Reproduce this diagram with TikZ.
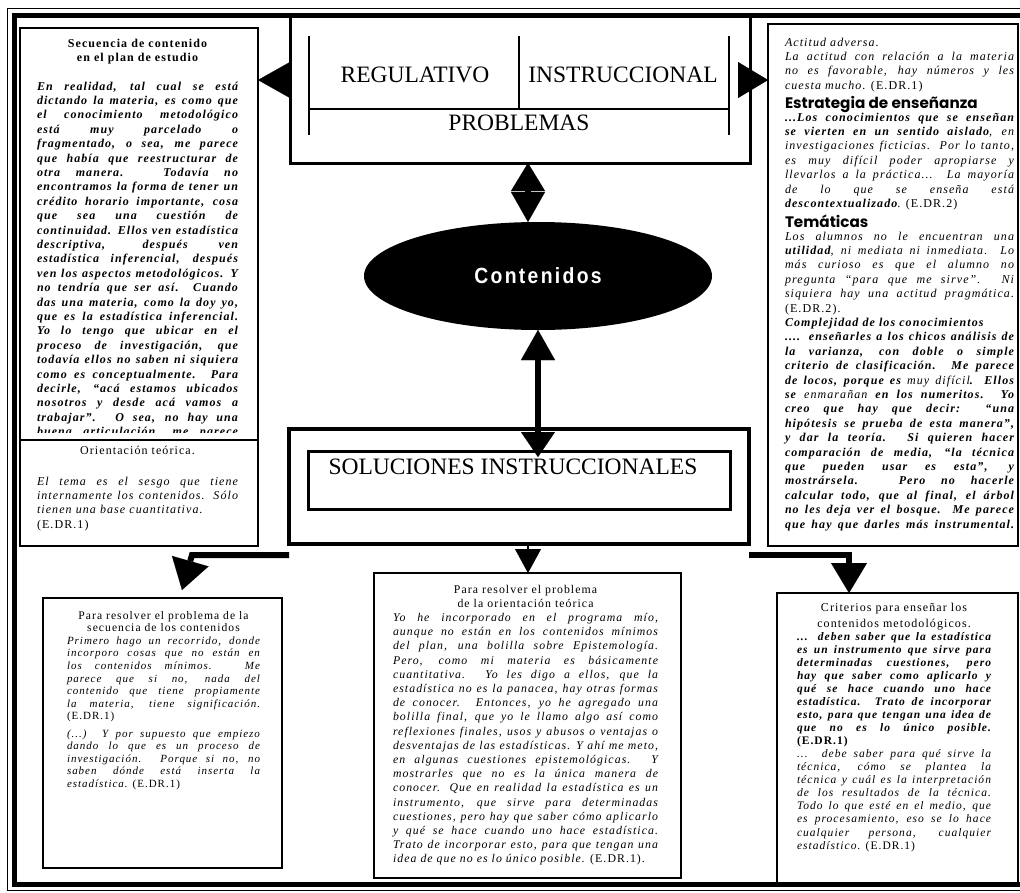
\documentclass[tikz,border=0pt]{standalone}
\usepackage{fontspec}
\usepackage{graphicx}
\setmainfont{Liberation Serif}[LetterSpace=9]
\newfontfamily\bigser{Liberation Serif}
\newfontfamily\hdfont{Poppins}
\newfontfamily\contfont{Liberation Sans}[LetterSpace=12]
\usetikzlibrary{arrows.meta,shapes.geometric}
\newlength\tw
\newcommand\justl[1]{\makebox[\tw][s]{\spaceskip=0pt\xspaceskip=0pt\relax #1}}
\newcommand\cenl[1]{\makebox[\tw][c]{#1}}
\newcommand\stt{\rule{0pt}{12pt}}
\newcommand\bfit{\bfseries\itshape}
\newcommand\hdng{\hdfont\bfseries\fontsize{15.2}{14.4}\selectfont}
\begin{document}
\begin{tikzpicture}[x=1pt,y=-1pt,
  box/.style={draw, line width=2pt, inner sep=0pt, outer sep=0pt},
  txt/.style n args={3}{anchor=north west, inner sep=0pt, outer sep=0pt, text width=#1, align=flush left,
     font={\fontsize{#2}{#3}\selectfont},
     execute at begin node={\setlength{\tw}{#1}\parindent=0pt\lineskiplimit=-50pt\spaceskip=0pt\xspaceskip=0pt\relax}},
  big/.style={inner sep=0pt, anchor=base, font={\bigser\fontsize{23.5}{24}\selectfont}},
  bar/.style={line width=2.5pt, line cap=butt},
]
\useasboundingbox (0,0) rectangle (1020,892);
% frame
\draw[line width=1.2pt] (7.5,8.5) rectangle (1040,890.5);
\draw[line width=5pt] (14.5,15.5) rectangle (1040,884.5);

% boxes
\node[box, line width=3pt, minimum width=460pt, minimum height=147.5pt] (prob) at (520,89.25) {};
\node[box, minimum width=238pt, minimum height=518pt] (sec) at (139,287) {};
\node[box, minimum width=250pt, minimum height=522pt] (act) at (893,285) {};
\node[box, line width=3.5pt, minimum width=460pt, minimum height=115pt] (solout) at (519,486.5) {};
\node[box, line width=3pt, minimum width=422pt, minimum height=58pt] (solin) at (519,480) {};
\node[box, minimum width=239pt, minimum height=270pt] (lb) at (162.5,733) {};
\node[box, line width=2.5pt, minimum width=307pt, minimum height=305pt] (mb) at (527.5,725.5) {};
\node[box, minimum width=241pt, minimum height=291pt] (rb) at (897.5,738.5) {};

% separator in left box
\coordinate (sepc) at (139,440);
\draw[line width=1.5pt] (sec.west |- sepc) -- (sec.east |- sepc);

% bracket lines inside PROBLEMAS
\coordinate (b1) at (309,36); \coordinate (b2) at (309,135);
\coordinate (b3) at (729,36); \coordinate (b4) at (729,135);
\coordinate (bm) at (519,36);
\coordinate (bh1) at (309,109); \coordinate (bh2) at (729,109);
\draw[bar] (b1) -- (b2);
\draw[bar] (b3) -- (b4);
\draw[bar] (bh1) -- (bh2);
\draw[bar] (bm) -- (bm |- bh1);

\node[big] (reg) at (415,82.8) {REGULATIVO};
\node[big] (ins) at (623,82.8) {INSTRUCCIONAL};
\node[big] (pro) at (519,130.8) {PROBLEMAS};
\node[big] (sol) at (513,474) {SOLUCIONES INSTRUCCIONALES};

% ellipse
\node[ellipse, fill=black, minimum width=348pt, minimum height=108pt, inner sep=0pt, outer sep=0pt,
      text=white, font={\contfont\bfseries\fontsize{22}{22}\selectfont}] (cont) at (538,276) {\scalebox{0.88}[1]{Contenidos}};

% connectors
\coordinate (pl) at (292,80);
\coordinate (pr) at (738,80);
\draw[line width=1pt, -{Triangle[length=32pt,width=36pt,line width=0.01pt]}] (pl) -- (sec.east |- pl);
\draw[line width=1pt, -{Triangle[length=30pt,width=36pt,line width=0.01pt]}] (pr) -- (act.west |- pr);

\coordinate (d1) at (528,0);
\draw[line width=6pt, {Triangle[length=28pt,width=34pt,line width=0.01pt]}-{Triangle[length=30pt,width=34pt,line width=0.01pt]}]
   (prob.south -| d1) -- (cont.north -| d1);

\coordinate (d4) at (538,457);
\draw[line width=6.5pt, {Triangle[length=30pt,width=34pt,line width=0.01pt]}-{Triangle[length=25pt,width=34pt,line width=0.01pt]}]
   (cont.south) -- (d4);

\coordinate (c5) at (528,0);
\draw[line width=2.5pt, -{Triangle[length=24pt,width=26pt,line width=0.01pt]}] (solout.south -| c5) -- (mb.north -| c5);

\coordinate (l2) at (192,555);
\coordinate (lt) at (182,590);
\draw[line width=6pt, line join=miter, -{Triangle[length=30pt,width=38pt,line width=0.01pt]}]
   (solout.west |- l2) -- (l2) -- (lt);
\coordinate (r2) at (849,555);
\draw[line width=6pt, line join=miter, -{Triangle[length=30pt,width=36pt,line width=0.01pt]}]
   (solout.east |- r2) -- (r2) -- (rb.north -| r2);

% top-left text
\begin{scope}
\clip (20,28) rectangle (258,432);
\node[txt={201pt}{12}{14.4}] (sectxt) at (37,35) {\stt\cenl{\bfseries Secuencia de contenido}\\
\cenl{\bfseries en el plan de estudio}\\[14.2pt]
\justl{\bfit En realidad, tal cual se está}\\
\justl{\bfit dictando la materia, es como que}\\
\justl{\bfit el conocimiento metodológico}\\
\justl{\bfit está muy parcelado o}\\
\justl{\bfit fragmentado, o sea, me parece}\\
\justl{\bfit que había que reestructurar de}\\
\justl{\bfit otra manera. Todavía no}\\
\justl{\bfit encontramos la forma de tener un}\\
\justl{\bfit crédito horario importante, cosa}\\
\justl{\bfit que sea una cuestión de}\\
\justl{\bfit continuidad. Ellos ven estadística}\\
\justl{\bfit descriptiva, después ven}\\
\justl{\bfit estadística inferencial, después}\\
\justl{\bfit ven los aspectos metodológicos. Y}\\
\justl{\bfit no tendría que ser así. Cuando}\\
\justl{\bfit das una materia, como la doy yo,}\\
\justl{\bfit que es la estadística inferencial.}\\
\justl{\bfit Yo lo tengo que ubicar en el}\\
\justl{\bfit proceso de investigación, que}\\
\justl{\bfit todavía ellos no saben ni siquiera}\\
\justl{\bfit como es conceptualmente. Para}\\
\justl{\bfit decirle, “acá estamos ubicados}\\
\justl{\bfit nosotros y desde acá vamos a}\\
\justl{\bfit trabajar”. O sea, no hay una}\\
\justl{\bfit buena articulación, me parece}};
\end{scope}

\node[txt={201pt}{12}{14.4}] (oritxt) at (37,442) {\stt\cenl{Orientación teórica.}\\[16.6pt]
\justl{\itshape El tema es el sesgo que tiene}\\
\justl{\itshape internamente los contenidos. Sólo}\\
{\itshape tienen una base cuantitativa.}\\
(E.DR.1)};

% top-right text
\node[txt={229pt}{12}{14.4}] (acttxt) at (785,34) {\stt{\itshape Actitud adversa.}\\
\justl{\itshape La actitud con relación a la materia}\\
\justl{\itshape no es favorable, hay números y les}\\
{\itshape cuesta mucho.} (E.DR.1)\\[4.9pt]
{\hdng Estrategia de enseñanza}\\[-1.9pt]
\justl{\bfit ...Los conocimientos que se enseñan}\\
\justl{{\bfit se vierten en un sentido aislado}{\itshape , en}}\\
\justl{\itshape investigaciones ficticias. Por lo tanto,}\\
\justl{\itshape es muy difícil poder apropiarse y}\\
\justl{\itshape llevarlos a la práctica... La mayoría}\\
\justl{\itshape de lo que se enseña está}\\
{\bfit descontextualizado}. (E.DR.2)\\[5.7pt]
{\hdng Temáticas}\\[-1.9pt]
\justl{\itshape Los alumnos no le encuentran una}\\
\justl{{\bfit utilidad}{\itshape , ni mediata ni inmediata. Lo}}\\
\justl{\itshape más curioso es que el alumno no}\\
\justl{\itshape pregunta “para que me sirve”. Ni}\\
\justl{\itshape siquiera hay una actitud pragmática.}\\
(E.DR.2).\\
{\bfit Complejidad de los conocimientos}\\
\justl{\bfit .... enseñarles a los chicos análisis de}\\
\justl{\bfit la varianza, con doble o simple}\\
\justl{\bfit criterio de clasificación. Me parece}\\
\justl{{\bfit de locos, porque es} {\itshape muy difícil}{\bfit . Ellos}}\\
\justl{{\bfit se} {\itshape enmarañan} {\bfit en los numeritos. Yo}}\\
\justl{\bfit creo que hay que decir: “una}\\
\justl{\bfit hipótesis se prueba de esta manera”,}\\
\justl{\bfit y dar la teoría. Si quieren hacer}\\
\justl{\bfit comparación de media, “la técnica}\\
\justl{\bfit que pueden usar es esta”, y}\\
\justl{\bfit mostrársela. Pero no hacerle}\\
\justl{\bfit calcular todo, que al final, el árbol}\\
\justl{\bfit no les deja ver el bosque. Me parece}\\
\justl{\bfit que hay que darles más instrumental.}};

% bottom-left text
\node[txt={193pt}{11}{12.6}] (lbtxt) at (67,607) {\stt\cenl{\fontsize{11.6}{12.6}\selectfont Para resolver el problema de la}\\
\cenl{\fontsize{11.6}{12.6}\selectfont secuencia de los contenidos}\\
\justl{\itshape Primero hago un recorrido, donde}\\
\justl{\itshape incorporo cosas que no están en}\\
\justl{\itshape los contenidos mínimos. Me}\\
\justl{\itshape parece que si no, nada del}\\
\justl{\itshape contenido que tiene propiamente}\\
\justl{\itshape la materia, tiene significación.}\\
(E.DR.1)\\[4.6pt]
\justl{\itshape (...) Y por supuesto que empiezo}\\
\justl{\itshape dando lo que es un proceso de}\\
\justl{\itshape investigación. Porque si no, no}\\
\justl{\itshape saben dónde está inserta la}\\
{\itshape estadística.} (E.DR.1)};

% bottom-middle text
\node[txt={265pt}{11.8}{14.2}] (mbtxt) at (393,581) {\stt\cenl{Para resolver el problema}\\
\cenl{de la orientación teórica}\\
\justl{\itshape Yo he incorporado en el programa mío,}\\
\justl{\itshape aunque no están en los contenidos mínimos}\\
\justl{\itshape del plan, una bolilla sobre Epistemología.}\\
\justl{\itshape Pero, como mi materia es básicamente}\\
\justl{\itshape cuantitativa. Yo les digo a ellos, que la}\\
\justl{\itshape estadística no es la panacea, hay otras formas}\\
\justl{\itshape de conocer. Entonces, yo he agregado una}\\
\justl{\itshape bolilla final, que yo le llamo algo así como}\\
\justl{\itshape reflexiones finales, usos y abusos o ventajas o}\\
\justl{\itshape desventajas de las estadísticas. Y ahí me meto,}\\
\justl{\itshape en algunas cuestiones epistemológicas. Y}\\
\justl{\itshape mostrarles que no es la única manera de}\\
\justl{\itshape conocer. Que en realidad la estadística es un}\\
\justl{\itshape instrumento, que sirve para determinadas}\\
\justl{\itshape cuestiones, pero hay que saber cómo aplicarlo}\\
\justl{\itshape y qué se hace cuando uno hace estadística.}\\
\justl{\itshape Trato de incorporar esto, para que tengan una}\\
{\itshape idea de que no es lo único posible.} (E.DR.1).};

% bottom-right text
\node[txt={194pt}{11.5}{13.04}] (rbtxt) at (797,599) {\stt\cenl{\fontsize{12}{13.04}\selectfont Criterios para enseñar los}\\[2.96pt]
\cenl{\fontsize{12}{13.04}\selectfont contenidos metodológicos.}\\[0.36pt]
\justl{\bfit ... deben saber que la estadística}\\
\justl{\bfit es un instrumento que sirve para}\\
\justl{\bfit determinadas cuestiones, pero}\\
\justl{\bfit hay que saber como aplicarlo y}\\
\justl{\bfit qué se hace cuando uno hace}\\
\justl{\bfit estadística. Trato de incorporar}\\
\justl{\bfit esto, para que tengan una idea de}\\
\justl{\bfit que no es lo único posible.}\\
{\bfseries (E.DR.1)}\\
\justl{\itshape ... debe saber para qué sirve la}\\
\justl{\itshape técnica, cómo se plantea la}\\
\justl{\itshape técnica y cuál es la interpretación}\\
\justl{\itshape de los resultados de la técnica.}\\
\justl{\itshape Todo lo que esté en el medio, que}\\
\justl{\itshape es procesamiento, eso se lo hace}\\
\justl{\itshape cualquier persona, cualquier}\\
{\itshape estadístico.} (E.DR.1)};
\end{tikzpicture}
\end{document}
